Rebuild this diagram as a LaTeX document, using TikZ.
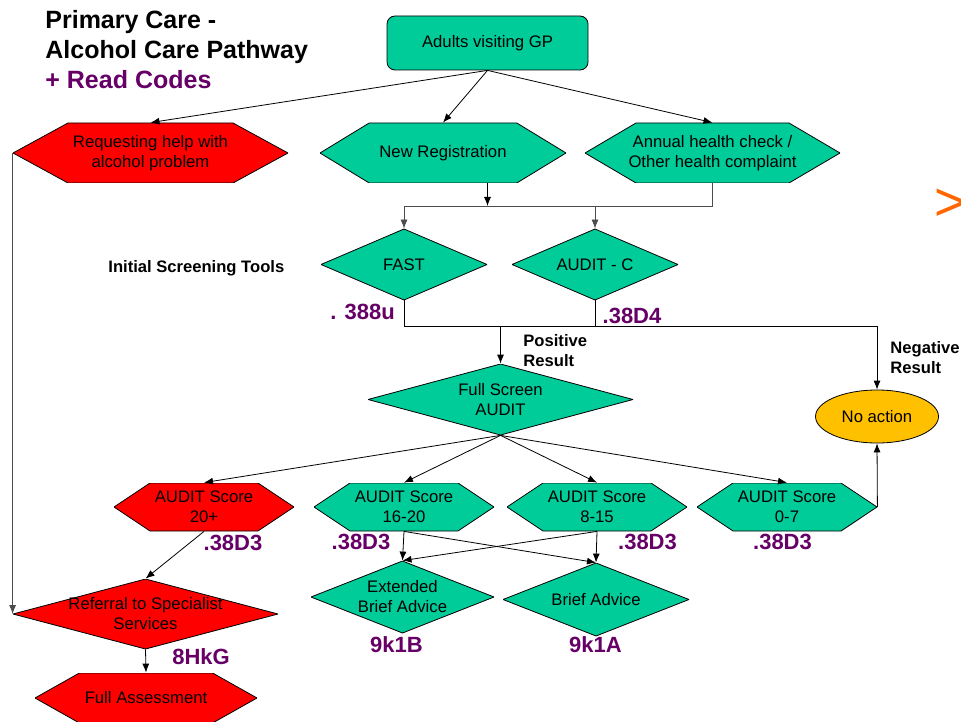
\documentclass[tikz,border=0pt]{standalone}
\usepackage{fontspec}
\setmainfont{Liberation Sans}
\usetikzlibrary{shapes.geometric,calc,arrows.meta}

\definecolor{tealgreen}{RGB}{0,204,153}
\definecolor{codepurple}{RGB}{102,0,102}
\definecolor{amber}{RGB}{255,192,0}
\definecolor{signorange}{RGB}{255,102,0}

\tikzset{
  every node/.style={font=\fontsize{8.35}{10}\selectfont, align=center, inner sep=0pt},
  % hexagon drawn inside the node box, tips at west and east
  hexbox/.style={rectangle, path picture={
      \fill[#1, draw=black]
        (path picture bounding box.west)
        -- ($(path picture bounding box.north west)!0.2!(path picture bounding box.north east)$)
        -- ($(path picture bounding box.north west)!0.8!(path picture bounding box.north east)$)
        -- (path picture bounding box.east)
        -- ($(path picture bounding box.south west)!0.8!(path picture bounding box.south east)$)
        -- ($(path picture bounding box.south west)!0.2!(path picture bounding box.south east)$)
        -- cycle;}},
  diabox/.style={rectangle, path picture={
      \fill[#1, draw=black]
        (path picture bounding box.west) -- (path picture bounding box.north)
        -- (path picture bounding box.east) -- (path picture bounding box.south) -- cycle;}},
  readcode/.style={font=\bfseries\fontsize{11}{13}\selectfont, text=codepurple},
  notelabel/.style={font=\bfseries\fontsize{8.3}{10}\selectfont, align=left, anchor=west},
}

\begin{document}
\begin{tikzpicture}[x=0.5pt,y=-0.5pt,>={Latex[length=4.5pt,width=3.5pt]}]
  \useasboundingbox (0,0) rectangle (961,721);

  \node[anchor=west, align=left, font=\bfseries\fontsize{12.5}{15}\selectfont] (title) at (45,50)
    {Primary Care -\\Alcohol Care Pathway\\\textcolor{codepurple}{+ Read Codes}};
  \node[anchor=base west, font=\fontsize{27}{30}\selectfont, text=signorange] (more) at (934,221) {>};

  % top row
  \node[draw, fill=tealgreen, rounded corners=4pt, minimum width=100.5pt, minimum height=27pt]
    (adults) at (487.5,43) {Adults visiting GP};
  \node[hexbox=red, minimum width=137.5pt, minimum height=30pt] (req) at (150.5,153)
    {Requesting help with\\alcohol problem};
  \node[hexbox=tealgreen, minimum width=123pt, minimum height=30pt] (newreg) at (443,153)
    {New Registration};
  \node[hexbox=tealgreen, minimum width=127.5pt, minimum height=30pt] (annual) at (712.5,153)
    {Annual health check /\\Other health complaint};

  % screening
  \node[notelabel] (initial) at (108,268) {Initial Screening Tools};
  \node[diabox=tealgreen, minimum width=83pt, minimum height=35.5pt] (fast) at (404,264.5) {FAST};
  \node[diabox=tealgreen, minimum width=83pt, minimum height=35.5pt] (auditc) at (595,264.5) {AUDIT - C};
  \node[readcode] (c388u) at (362.5,312) {. 388u};
  \node[readcode] (c38D4) at (632,316) {.38D4};

  \node[notelabel] (positive) at (523,350.5) {Positive\\Result};
  \node[notelabel] (negative) at (890,358) {Negative\\Result};
  \node[diabox=tealgreen, minimum width=132.5pt, minimum height=35.5pt] (fsa) at (500.5,399.5)
    {Full Screen\\AUDIT};
  \node[draw, fill=amber, ellipse, minimum width=61.5pt, minimum height=26.5pt] (noact) at (877,416.5)
    {No action};

  % scores
  \node[hexbox=red, minimum width=90pt, minimum height=24pt] (s20) at (204,507) {AUDIT Score\\20+};
  \node[hexbox=tealgreen, minimum width=90pt, minimum height=24pt] (s16) at (404,507) {AUDIT Score\\16-20};
  \node[hexbox=tealgreen, minimum width=90pt, minimum height=24pt] (s8) at (597,507) {AUDIT Score\\8-15};
  \node[hexbox=tealgreen, minimum width=90pt, minimum height=24pt] (s0) at (787,507) {AUDIT Score\\0-7};
  \node[readcode] (c20) at (233,543) {.38D3};
  \node[readcode] (c16) at (361,542) {.38D3};
  \node[readcode] (c8) at (647.5,542) {.38D3};
  \node[readcode] (c0) at (782.5,542) {.38D3};

  % advice and referral
  \node[diabox=tealgreen, minimum width=91.5pt, minimum height=36pt] (eba) at (402.5,597)
    {Extended\\Brief Advice};
  \node[diabox=tealgreen, minimum width=93pt, minimum height=36.5pt] (ba) at (596,599.5) {Brief Advice};
  \node[readcode] (c9k1B) at (396.5,645) {9k1B};
  \node[readcode] (c9k1A) at (595.5,645) {9k1A};
  \node[diabox=red, minimum width=132.5pt, minimum height=35pt] (ref) at (145.5,614)
    {Referral to Specialist\\Services};
  \node[readcode] (c8HkG) at (201,657) {8HkG};
  \node[hexbox=red, minimum width=111pt, minimum height=25pt] (fa) at (146,698) {Full Assessment};

  \coordinate (bus) at (404,206);
  \coordinate (low) at (404,326);

  \draw[->] (adults.south) -- (req.north);
  \draw[->] (adults.south) -- (newreg.north);
  \draw[->] (adults.south) -- (annual.north);
  \draw[->] (adults.south |- newreg.south) -- (adults.south |- bus);
  \draw[->, black!70] (annual.south) |- (bus) -- (fast.north);
  \draw[->, black!70] (auditc.north |- bus) -- (auditc.north);

  \draw[->] (fast.south) |- (noact.north |- low) -- (noact.north);
  \draw (auditc.south) -- (auditc.south |- low);
  \draw[->] (fsa.north |- low) -- (fsa.north);

  \foreach \s in {s20,s16,s8,s0}
    \draw[->] (fsa.south) -- (\s.north);

  \draw[->] (s0.east) -- (noact.south);
  \draw[->] (s16.south) -- (eba.north);
  \draw[->] (s16.south) -- (ba.north);
  \draw[->] (s8.south) -- (ba.north);
  \draw[->] (s8.south) -- (eba.north);
  \draw[->] (s20.south) -- (ref.north);
  \draw[->, black!70] (req.west) -- (ref.west);
  \draw[->] (ref.south) -- (fa.north);
\end{tikzpicture}
\end{document}
